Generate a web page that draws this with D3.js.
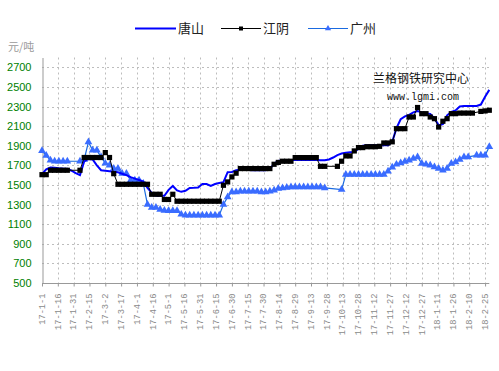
<!DOCTYPE html>
<html>
<head>
<meta charset="utf-8">
<script src="https://cdn.jsdelivr.net/npm/d3@7"></script>
<style>
  body { margin: 0; background: #fff; }
</style>
</head>
<body>
<svg id="chart" width="499" height="371"></svg>
<script>
// one reading every 4 days from 2017-01-01 (null = no quote, holiday)
const startDate = '2017-01-01';
const stepDays = 4;

const tangshan = [
  1610, 1660, 1677, 1675, 1670, 1667, 1665, 1645, 1620, 1600,
  1740, 1765, 1760, 1700, 1650, 1645, 1640, 1635, 1630, 1615,
  1600, 1580, 1565, 1550, 1535, 1470, 1420, 1390, 1390, 1390,
  1450, 1490, 1445, 1430, 1440, 1470, 1472, 1475, 1510, 1510,
  1490, 1510, 1520, 1528, 1630, 1633, 1650, 1655, 1655, 1652,
  1650, 1650, 1650, 1650, 1660, 1720, 1745, 1752, 1752, 1755,
  1755, 1755, 1755, 1755, 1755, 1755, 1752, 1752, 1760, 1780,
  1805, 1820, 1828, 1833, 1836, 1870, 1900, 1904, 1904, 1904,
  1905, 1905, 1905, 1940, 2080, 2170, 2200, 2215, 2240, 2255,
  2240, 2230, 2225, 2180, 2110, 2120, 2210, 2245, 2260, 2300,
  2305, 2305, 2305, 2305, 2320, 2400, 2470
];

const jiangyin = [
  1605, 1605, 1650, 1650, 1650, 1650, 1650, null, null, 1650,
  1780, 1780, 1780, 1780, 1780, 1830, 1780, 1615, 1507, 1507,
  1507, 1507, 1507, 1507, 1507, 1507, 1405, 1405, 1405, 1352,
  1352, 1405, 1334, 1334, 1334, 1334, 1334, 1334, 1334, 1334,
  1334, 1334, 1334, 1497, 1531, 1582, 1620, 1667, 1667, 1667,
  1667, 1667, 1667, 1667, 1667, 1711, 1730, 1742, 1742, 1742,
  1779, 1779, 1779, 1779, 1779, 1779, 1690, 1690, null, null,
  1690, 1742, 1796, 1796, 1847, 1881, 1881, 1890, 1890, 1890,
  1894, 1928, 1928, 1940, 2074, 2074, 2074, 2193, 2193, 2290,
  2227, 2227, 2193, 2176, 2091, 2150, 2176, 2227, 2227, 2233,
  2233, 2233, 2233, null, 2250, 2255, 2262
];

const guangzhou = [
  1850, 1800, 1752, 1742, 1742, 1742, 1742, null, null, 1742,
  1760, 1938, 1853, 1853, 1786, 1720, 1700, 1667, 1667, 1616,
  1616, 1548, 1548, 1548, 1515, 1300, 1270, 1270, 1250, 1240,
  1236, 1236, 1236, 1200, 1192, 1192, 1192, 1192, 1192, 1192,
  1192, 1192, 1192, 1300, 1378, 1429, 1429, 1435, 1435, 1435,
  1435, 1435, 1429, 1429, 1435, 1446, 1463, 1470, 1475, 1480,
  1480, 1480, 1480, 1480, 1480, 1480, 1480, 1470, null, null,
  null, 1453, 1606, 1606, 1606, 1606, 1606, 1606, 1606, 1606,
  1606, 1606, 1640, 1680, 1710, 1725, 1740, 1752, 1770, 1786,
  1718, 1710, 1700, 1684, 1667, 1650, 1667, 1718, 1735, 1760,
  1786, 1786, null, 1802, 1802, 1802, 1890
];

const xTickLabels = [
  '17-1-1', '17-1-16', '17-1-31', '17-2-15', '17-3-2', '17-3-17', '17-4-1',
  '17-4-16', '17-5-1', '17-5-16', '17-5-31', '17-6-15', '17-6-30', '17-7-15',
  '17-7-30', '17-8-14', '17-8-29', '17-9-13', '17-9-28', '17-10-13', '17-10-28',
  '17-11-12', '17-11-27', '17-12-12', '17-12-27', '18-1-11', '18-1-26',
  '18-2-10', '18-2-25'
];
const yTicks = [500, 700, 900, 1100, 1300, 1500, 1700, 1900, 2100, 2300, 2500, 2700];

const seriesNames = ['唐山', '江阴', '广州'];

// layout
const width = 499, height = 371;
const margin = { top: 57.5, right: 9.7, bottom: 88, left: 42 };

const svg = d3.select('#chart');
const parseTick = d3.timeParse('%y-%m-%d');
const start = d3.timeParse('%Y-%m-%d')(startDate);
const dateAt = (i) => d3.timeDay.offset(start, i * stepDays);

const x = d3.scaleTime()
  .domain([start, d3.timeDay.offset(start, 424)])
  .range([margin.left, width - margin.right]);

const y = d3.scaleLinear()
  .domain([500, 2800])
  .range([height - margin.bottom, margin.top]);

const toPoints = (values) => values
  .map((v, i) => ({ date: dateAt(i), value: v }))
  .filter(d => d.value !== null);

// grid
const grid = svg.append('g')
  .attr('stroke', '#bdbdbd')
  .attr('stroke-dasharray', '2,3')
  .attr('stroke-width', 1);

grid.selectAll('line.h')
  .data(yTicks.filter(t => t > 500))
  .enter()
  .append('line')
  .attr('x1', margin.left)
  .attr('x2', width - margin.right)
  .attr('y1', d => Math.round(y(d)) + 0.5)
  .attr('y2', d => Math.round(y(d)) + 0.5);

grid.selectAll('line.v')
  .data(xTickLabels.slice(1))
  .enter()
  .append('line')
  .attr('x1', d => Math.round(x(parseTick(d))) + 0.5)
  .attr('x2', d => Math.round(x(parseTick(d))) + 0.5)
  .attr('y1', margin.top)
  .attr('y2', height - margin.bottom);

// axes
const xAxis = svg.append('g')
  .attr('transform', `translate(0, ${Math.round(y(500)) + 0.5})`)
  .call(d3.axisBottom(x)
    .tickValues(xTickLabels.map(parseTick))
    .tickSize(3)
    .tickFormat(''));
xAxis.select('.domain').attr('stroke', '#999').attr('d', `M${margin.left},0H${width - margin.right}`);
xAxis.selectAll('.tick line').attr('stroke', '#999');

svg.append('g')
  .selectAll('text')
  .data(xTickLabels)
  .enter()
  .append('text')
  .attr('transform', d => `translate(${x(parseTick(d))}, 293.5) rotate(-90)`)
  .attr('text-anchor', 'end')
  .attr('dy', '0.32em')
  .style('font-family', '"Liberation Mono", "DejaVu Sans Mono", monospace')
  .style('font-size', '8.7px')
  .style('fill', '#8a8a8a')
  .text(d => d);

const yAxis = svg.append('g')
  .attr('transform', `translate(${margin.left + 0.5}, 0)`)
  .call(d3.axisLeft(y).tickValues(yTicks).tickSize(0).tickPadding(11).tickFormat(d3.format('d')));
yAxis.select('.domain').attr('stroke', '#999');
yAxis.selectAll('.tick text')
  .style('font-family', '"Liberation Sans", Arial, sans-serif')
  .style('font-size', '11px')
  .style('fill', '#008000');

svg.append('text')
  .attr('x', 8)
  .attr('y', 47)
  .attr('dy', '0.35em')
  .style('font-family', '"Noto Sans CJK SC", sans-serif')
  .style('font-size', '11px')
  .style('fill', '#9a9a9a')
  .text('元/吨');

// watermark
svg.append('text')
  .attr('x', 373)
  .attr('y', 79)
  .attr('dy', '0.35em')
  .style('font-family', '"Noto Sans CJK SC", sans-serif')
  .style('font-size', '12px')
  .style('fill', '#111')
  .text('兰格钢铁研究中心');
svg.append('text')
  .attr('x', 387)
  .attr('y', 96)
  .attr('dy', '0.35em')
  .style('font-family', '"Liberation Mono", monospace')
  .style('font-size', '10px')
  .style('fill', '#111')
  .text('www.lgmi.com');

// series
const line = d3.line()
  .x(d => x(d.date))
  .y(d => y(d.value));

const triangle = d3.symbol(d3.symbolTriangle, 26);

// 广州
const gzData = toPoints(guangzhou);
svg.append('path')
  .datum(gzData)
  .attr('d', line)
  .attr('fill', 'none')
  .attr('stroke', '#1a6ae0')
  .attr('stroke-width', 1.2);
svg.append('g')
  .selectAll('path')
  .data(gzData)
  .enter()
  .append('path')
  .attr('transform', d => `translate(${x(d.date)}, ${y(d.value)})`)
  .attr('d', triangle)
  .attr('fill', '#3a6cff');

// 唐山
svg.append('path')
  .datum(toPoints(tangshan))
  .attr('d', line)
  .attr('fill', 'none')
  .attr('stroke', '#0000ff')
  .attr('stroke-width', 2);

// 江阴
const jyData = toPoints(jiangyin);
svg.append('path')
  .datum(jyData)
  .attr('d', line)
  .attr('fill', 'none')
  .attr('stroke', '#000')
  .attr('stroke-width', 1);
svg.append('g')
  .selectAll('rect')
  .data(jyData)
  .enter()
  .append('rect')
  .attr('x', d => x(d.date) - 2.6)
  .attr('y', d => y(d.value) - 2.6)
  .attr('width', 5.2)
  .attr('height', 5.2)
  .attr('fill', '#000');

// legend
const legend = svg.append('g');
const legendX = [135, 221, 308];
const legendY = 28.5;

legend.append('line')
  .attr('x1', legendX[0]).attr('x2', legendX[0] + 41)
  .attr('y1', legendY).attr('y2', legendY)
  .attr('stroke', '#0000ff').attr('stroke-width', 2);
legend.append('line')
  .attr('x1', legendX[1]).attr('x2', legendX[1] + 40)
  .attr('y1', legendY).attr('y2', legendY)
  .attr('stroke', '#000').attr('stroke-width', 1);
legend.append('rect')
  .attr('x', legendX[1] + 18).attr('y', legendY - 2)
  .attr('width', 4).attr('height', 4)
  .attr('fill', '#000');
legend.append('line')
  .attr('x1', legendX[2]).attr('x2', legendX[2] + 40)
  .attr('y1', legendY).attr('y2', legendY)
  .attr('stroke', '#1a6ae0').attr('stroke-width', 1);
legend.append('path')
  .attr('transform', `translate(${legendX[2] + 20}, ${legendY})`)
  .attr('d', d3.symbol(d3.symbolTriangle, 17))
  .attr('fill', '#3a6cff');

legend.selectAll('text')
  .data(seriesNames)
  .enter()
  .append('text')
  .attr('x', (d, i) => legendX[i] + (i === 0 ? 43 : 42))
  .attr('y', legendY)
  .attr('dy', '0.36em')
  .style('font-family', '"Noto Sans CJK SC", sans-serif')
  .style('font-size', '13px')
  .style('fill', '#222')
  .text(d => d);
</script>
</body>
</html>
